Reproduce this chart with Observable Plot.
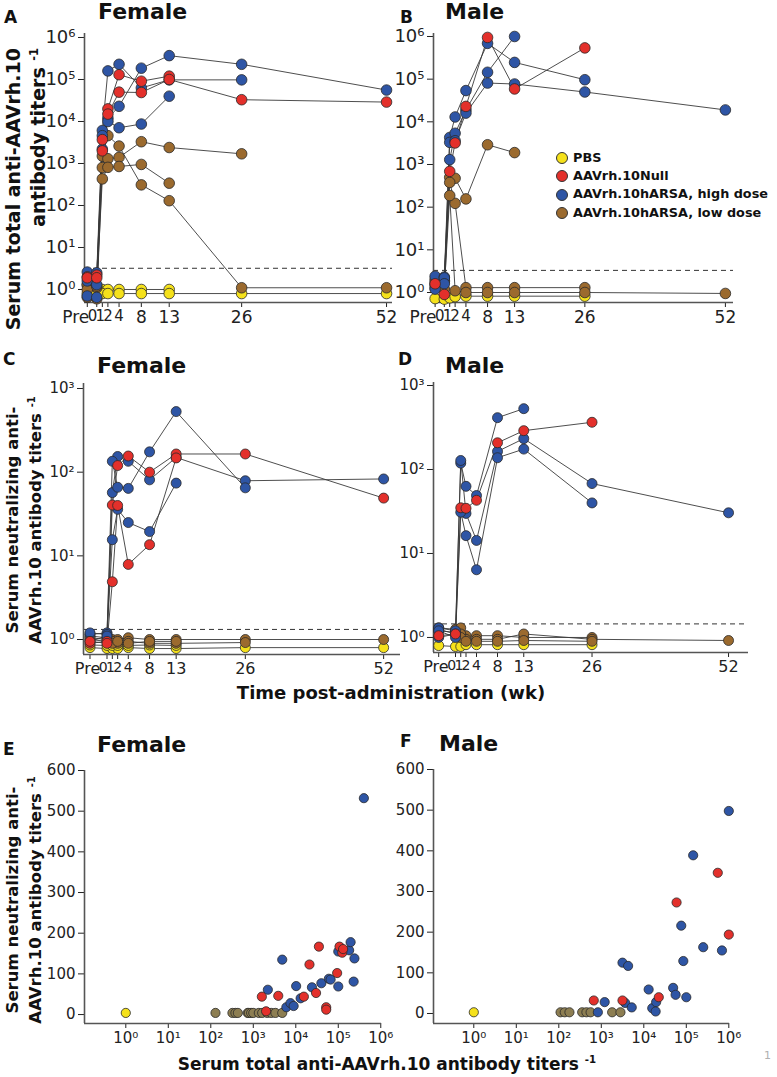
<!DOCTYPE html>
<html><head><meta charset="utf-8">
<script src="https://cdn.jsdelivr.net/npm/d3@7"></script>
<script src="https://cdn.jsdelivr.net/npm/@observablehq/plot@0.6"></script>
<style>
body{margin:0;background:#fff;}
#root{position:relative;width:777px;height:1077px;overflow:hidden;font-family:"DejaVu Sans",sans-serif;color:#111;}
.abs{position:absolute;white-space:nowrap;line-height:1;}
.letter{font-weight:bold;font-size:17px;}
.title{font-weight:bold;font-size:22px;}
.ytitle{position:absolute;font-weight:bold;transform:rotate(-90deg);transform-origin:0 0;white-space:nowrap;}
.ytitle sup,.xtitle sup{font-size:60%;line-height:0;}
.xtitle{position:absolute;font-weight:bold;white-space:nowrap;line-height:1;transform:translateX(-50%);}
.lrow{display:flex;align-items:center;height:18.3px;font-weight:bold;font-size:12.8px;white-space:nowrap;}
.sw{width:12px;height:12px;border-radius:50%;border:1px solid #333;margin-right:5px;box-sizing:border-box;}
.panel{position:absolute;}
</style>
</head><body>
<div id="root"></div>
<script>
// ---------- data ----------
const groupNames = ["PBS", "AAVrh.10Null", "AAVrh.10hARSA, high dose", "AAVrh.10hARSA, low dose"];
const groupColors = ["#f5e11b", "#e3302b", "#2e55a5", "#9b6a2e"];
const scatterLowColor = "#8d7e52";
const weekLabels = ["Pre", "0", "1", "2", "4", "8", "13", "26", "52"];
const weekNumbers = [null, 0, 1, 2, 4, 8, 13, 26, 52];
const preWeekTotal = -1.7;
const preWeekNeut = -3.2;

// Panel A: female, total anti-AAVrh.10 titers (values at Pre,0,1,2,4,8,13,26,52)
const femTotalPBS = [
  [1.3, 1.2, 1.0, 1.0, 1.0, 1.0, 1.0, null, null],
  [0.8, 0.8, 0.8, 0.8, 0.8, 0.8, 0.8, 0.8, 0.8]
];
const femTotalNull = [
  [2.0, 2.2, 2000, 20000, 130000, 91000, 120000, null, null],
  [1.9, 1.9, 3700, 15000, 50000, 49000, 100000, 33000, 29000]
];
const femTotalHigh = [
  [2.6, 2.5, 6100, 160000, 230000, 63000, 98000, 98000, null],
  [0.7, 0.65, 4600, 12000, 23000, 186000, 370000, 230000, 56000],
  [1.6, 1.3, 2200, 10000, 7100, 8700, 40000, null, null]
];
const femTotalLow = [
  [1.3, 1.1, 1500, 4600, 2600, 310, 130, 1.1, 1.1],
  [0.65, 0.6, 800, 1300, 1400, 3300, 2400, 1700, null],
  [1.0, 1.2, 430, 810, 850, 950, 340, null, null]
];

// Panel B: male, total titers
const maleTotalPBS = [
  [0.72, 0.7, 0.75, 0.8, 0.82, 0.82, 0.82, 0.82, null]
];
const maleTotalNull = [
  [1.6, 0.9, 690, 3200, 23000, 950000, 59000, 540000, null]
];
const maleTotalHigh = [
  [2.4, 2.3, 4300, 13000, 54000, 690000, 247000, 97000, null],
  [1.5, 2.2, 1300, 5400, 19000, 145000, 1000000, null, null],
  [1.2, 1.6, 3300, 3600, 16000, 81000, 77000, 50000, 19000]
];
const maleTotalLow = [
  [2.0, 1.9, 500, 475, 156, 2900, 1900, null, null],
  [1.3, 1.8, 380, 123, 1.3, 1.3, 1.3, 1.3, null],
  [1.7, 1.2, 187, 1.1, 1.0, 1.0, 1.0, 1.0, 0.95]
];

// Panel C: female, neutralizing titers
const femNeutPBS = [
  [0.8, 0.78, 0.78, 0.78, 0.8, 0.78, 0.78, 0.8, 0.8],
  [0.86, 0.85, 0.85, 0.85, 0.85, 0.86, 0.85, null, null]
];
const femNeutNull = [
  [0.9, 0.95, 40.5, 120, 156, 100, 165, 165, 49],
  [0.95, 0.9, 4.9, 40, 7.9, 13.6, 148, null, null]
];
const femNeutHigh = [
  [1.15, 1.2, 57, 154, 135, 81, 150, 79, 83],
  [1.2, 1.15, 135, 66, 64, 175, 530, 65, null],
  [0.95, 1.1, 15.6, 36, 25, 19.5, 74, null, null]
];
const femNeutLow = [
  [1.1, 1.05, 1.0, 1.0, 1.05, 1.0, 1.0, 1.0, 1.0],
  [1.0, 0.95, 0.95, 0.9, 0.95, 0.9, 0.9, 0.92, null],
  [1.05, 1.0, 0.9, 0.95, 0.9, 0.95, 0.95, null, null]
];

// Panel D: male, neutralizing titers
const maleNeutPBS = [
  [0.8, 0.78, 0.78, 0.82, 0.82, 0.82, 0.82, 0.82, null]
];
const maleNeutNull = [
  [1.05, 1.1, 35, 34.5, 43, 208, 290, 365, null]
];
const maleNeutHigh = [
  [1.3, 1.2, 119, 63, 49, 414, 530, null, null],
  [1.0, 1.1, 128, 30, 14.3, 164, 233, 68, 30.5],
  [1.2, 1.0, 31, 16.3, 6.4, 138, 175, 40, null]
];
const maleNeutLow = [
  [1.3, 1.25, 1.3, 1.05, 1.05, 1.05, 1.0, 1.0, null],
  [1.2, 1.15, 1.1, 0.95, 0.95, 0.95, 1.1, 0.95, 0.92],
  [1.25, 1.1, 1.0, 0.9, 0.9, 0.9, 0.92, 0.9, null]
];

// Limits of detection (dashed lines)
const lodTotalFemale = 3.2, lodTotalMale = 3.3, lodNeutFemale = 1.32, lodNeutMale = 1.45;

// Panel E: female, total (x) vs neutralizing (y)
const femScatPBSx = [1], femScatPBSy = [4];
const femScatLowX = [129, 323, 380, 433, 740, 785, 890, 1000, 1350, 1620, 2130, 2640, 3320, 4800];
const femScatLowY = [4, 4, 4, 4, 4, 4, 4, 4, 4, 4, 4, 4, 4, 4];
const femScatNullX = [1590, 2000, 3870, 15500, 21000, 30000, 35000, 52000, 52000, 94000, 107000, 124000, 130000];
const femScatNullY = [44, 8, 46, 44, 123, 53, 167, 18, 12, 102, 167, 152, 161];
const femScatHighX = [2200, 4800, 6000, 7500, 8900, 10200, 13000, 24000, 40000, 60000, 66000, 100000, 100000, 180000, 195000, 230000, 240000, 400000];
const femScatHighY = [61, 135, 18, 28, 21, 70, 40, 67, 77, 88, 86, 69, 155, 158, 178, 81, 138, 532];

// Panel F: male
const maleScatPBSx = [1], maleScatPBSy = [3];
const maleScatLowX = [110, 138, 178, 355, 446, 560, 1800, 2820];
const maleScatLowY = [3, 3, 3, 3, 3, 3, 3, 3];
const maleScatNullX = [665, 3150, 22500, 59000, 550000, 1000000];
const maleScatNullY = [32, 32, 40, 273, 346, 194];
const maleScatHighX = [830, 1200, 3150, 3640, 4270, 5200, 13000, 15800, 19000, 19500, 49000, 56000, 76000, 85000, 100000, 145000, 250000, 690000, 1000000];
const maleScatHighY = [3, 28, 125, 26, 117, 15, 59, 13, 5, 28, 63, 46, 216, 129, 40, 389, 163, 155, 498];

const logTicksTotal = [1, 10, 100, 1000, 10000, 100000, 1000000];
const logTicksNeut = [1, 10, 100, 1000];
const linTicksScatter = [0, 100, 200, 300, 400, 500, 600];

// ---------- helpers ----------
const supMap = {"0":"⁰","1":"¹","2":"²","3":"³","4":"⁴","5":"⁵","6":"⁶","-":"⁻"};
const logFmt = d => "10" + String(Math.round(Math.log10(d))).split("").map(c => supMap[c]).join("");
const root = document.getElementById("root");
const drawOrder = [0, 3, 2, 1]; // PBS, low, high, null

function place(node, left, top, width) {
  const w = document.createElement("div");
  w.className = "panel";
  w.style.left = left + "px"; w.style.top = top + "px"; w.style.width = width + "px";
  w.appendChild(node);
  root.appendChild(w);
}
function baseStyle(fs) {
  return {background: "transparent", fontFamily: "DejaVu Sans", fontSize: fs + "px", color: "#222", overflow: "visible", maxWidth: "none"};
}

function timePanel(o) {
  const {groups, preWeek, xDomain, yDomain, yTicks, width, height, mt, mb, ml, mr, lod, yFont, xFont, xFontSmall, r} = o;
  const tickWeeks = weekNumbers.map((w, i) => i === 0 ? preWeek : w);
  const rows = [];
  groups.forEach((list, gi) => list.forEach((s, si) => s.forEach((v, wi) => {
    if (v != null) rows.push({id: gi + "-" + si, g: gi, w: tickWeeks[wi], v});
  })));
  const innerW = width - ml - mr;
  const px = w => ml + (w - xDomain[0]) / (xDomain[1] - xDomain[0]) * innerW;
  const labs = weekLabels.map((label, i) => ({w: tickWeeks[i], label, fs: (i > 0 && i < 5) ? xFontSmall : xFont}));
  const hw = l => (l.label === "Pre" ? 1.9 : 0.64 * l.label.length) * l.fs * 0.8 / 2;
  let prev = null;
  for (let i = labs.length - 1; i >= 0; i--) {
    const l = labs[i];
    let p = px(l.w);
    if (prev) p = Math.min(p, prev.p - hw(prev) - hw(l));
    l.p = p; l.dx = p - px(l.w); prev = l;
  }
  return Plot.plot({
    width, height, marginTop: mt, marginBottom: mb, marginLeft: ml, marginRight: mr,
    style: baseStyle(yFont),
    x: {domain: xDomain, ticks: tickWeeks, tickFormat: () => "", tickSize: 5, label: null},
    y: {type: "log", domain: yDomain, ticks: yTicks, tickFormat: logFmt, tickSize: 6, tickPadding: 3, label: null},
    marks: [
      Plot.ruleY([lod], {stroke: "#333", strokeWidth: 1, strokeDasharray: "5,4"}),
      Plot.ruleX([xDomain[0]], {stroke: "#555", strokeWidth: 1.6}),
      Plot.ruleY([yDomain[0]], {stroke: "#555", strokeWidth: 1.6}),
      Plot.line(rows, {x: "w", y: "v", z: "id", stroke: "#3a3a3a", strokeWidth: 0.9}),
      ...drawOrder.map(g => Plot.dot(rows.filter(d => d.g === g), {x: "w", y: "v", r, fill: groupColors[g], stroke: "#2a2a2a", strokeWidth: 0.8})),
      ...labs.map(l => Plot.text([l], {x: "w", text: "label", frameAnchor: "bottom", lineAnchor: "top", dy: 8, dx: l.dx, fontSize: l.fs, fill: "#222"}))
    ]
  });
}

function scatterPanel(o) {
  const {sets, xDomain, yDomain, width, height, mt, mb, ml, mr, fs, r} = o;
  return Plot.plot({
    width, height, marginTop: mt, marginBottom: mb, marginLeft: ml, marginRight: mr,
    style: baseStyle(fs),
    x: {type: "log", domain: xDomain, ticks: logTicksTotal, tickFormat: logFmt, tickSize: 5, tickPadding: 4, label: null},
    y: {domain: yDomain, ticks: linTicksScatter, tickSize: 6, tickPadding: 3, label: null},
    marks: [
      Plot.ruleX([xDomain[0]], {stroke: "#555", strokeWidth: 1.6}),
      Plot.ruleY([yDomain[0]], {stroke: "#555", strokeWidth: 1.6}),
      ...sets.map(s => Plot.dot(s.x.map((x, i) => ({x, y: s.y[i]})), {x: "x", y: "y", r, fill: s.color, stroke: "#2a2a2a", strokeWidth: 0.8}))
    ]
  });
}

// ---------- panels ----------
place(timePanel({
  groups: [femTotalPBS, femTotalNull, femTotalHigh, femTotalLow], preWeek: preWeekTotal,
  xDomain: [-2.2, 53.07], yDomain: [0.49, 1.245e6], yTicks: logTicksTotal,
  width: 395, height: 330, mt: 33, mb: 28, ml: 84, mr: 3, lod: lodTotalFemale,
  yFont: 18, xFont: 17, xFontSmall: 15, r: 5.3
}), 0, 0, 395);

place(timePanel({
  groups: [maleTotalPBS, maleTotalNull, maleTotalHigh, maleTotalLow], preWeek: preWeekTotal,
  xDomain: [-2.0, 53.5], yDomain: [0.583, 1.175e6], yTicks: logTicksTotal,
  width: 387, height: 330, mt: 33, mb: 28, ml: 43, mr: 44, lod: lodTotalMale,
  yFont: 18, xFont: 17, xFontSmall: 15, r: 5.3
}), 390, 0, 387);

place(timePanel({
  groups: [femNeutPBS, femNeutNull, femNeutHigh, femNeutLow], preWeek: preWeekNeut,
  xDomain: [-4.42, 55.17], yDomain: [0.662, 1148], yTicks: logTicksNeut,
  width: 405, height: 330, mt: 33, mb: 26, ml: 83, mr: 5, lod: lodNeutFemale,
  yFont: 15, xFont: 16, xFontSmall: 14, r: 5
}), 0, 350, 405);

place(timePanel({
  groups: [maleNeutPBS, maleNeutNull, maleNeutHigh, maleNeutLow], preWeek: preWeekNeut,
  xDomain: [-4.19, 55.8], yDomain: [0.662, 1086], yTicks: logTicksNeut,
  width: 387, height: 330, mt: 32, mb: 28, ml: 43, mr: 29, lod: lodNeutMale,
  yFont: 15, xFont: 16, xFontSmall: 14, r: 5
}), 390, 350, 387);

place(scatterPanel({
  sets: [
    {x: femScatLowX, y: femScatLowY, color: scatterLowColor},
    {x: femScatPBSx, y: femScatPBSy, color: groupColors[0]},
    {x: femScatHighX, y: femScatHighY, color: groupColors[2]},
    {x: femScatNullX, y: femScatNullY, color: groupColors[1]}
  ],
  xDomain: [0.1067, 1.04e6], yDomain: [-22, 600],
  width: 395, height: 315, mt: 30, mb: 32, ml: 84, mr: 14, fs: 15, r: 4.6
}), 0, 740, 395);

place(scatterPanel({
  sets: [
    {x: maleScatLowX, y: maleScatLowY, color: scatterLowColor},
    {x: maleScatPBSx, y: maleScatPBSy, color: groupColors[0]},
    {x: maleScatHighX, y: maleScatHighY, color: groupColors[2]},
    {x: maleScatNullX, y: maleScatNullY, color: groupColors[1]}
  ],
  xDomain: [0.1127, 1.038e6], yDomain: [-24.6, 600],
  width: 387, height: 315, mt: 29, mb: 32, ml: 43, mr: 48, fs: 15, r: 4.6
}), 390, 740, 387);

// ---------- text ----------
function addText(cls, html, left, top, extra) {
  const d = document.createElement("div");
  d.className = cls;
  d.innerHTML = html;
  d.style.left = left + "px"; d.style.top = top + "px";
  if (extra) Object.assign(d.style, extra);
  root.appendChild(d);
}
[["A", 4, 9], ["B", 400, 9], ["C", 3, 351], ["D", 398, 351], ["E", 3, 741], ["F", 400, 733]]
  .forEach(([t, x, y]) => addText("abs letter", t, x, y));
[["Female", 98, 1], ["Male", 445, 1], ["Female", 97, 355], ["Male", 445, 355], ["Female", 97, 734], ["Male", 439, 733]]
  .forEach(([t, x, y]) => addText("abs title", t, x, y));

addText("ytitle", "Serum total anti-AAVrh.10<br>antibody titers <sup>-1</sup>", 1, 338,
  {width: "290px", textAlign: "right", fontSize: "19px", lineHeight: "25px"});
addText("ytitle", "Serum neutralizing anti-<br>AAVrh.10 antibody titers <sup>-1</sup>", 1, 650,
  {width: "260px", textAlign: "center", fontSize: "16.5px", lineHeight: "23px"});
addText("ytitle", "Serum neutralizing anti-<br>AAVrh.10 antibody titers <sup>-1</sup>", 1, 1030,
  {width: "260px", textAlign: "center", fontSize: "16.5px", lineHeight: "23px"});

addText("xtitle", "Time post-administration (wk)", 391, 684, {fontSize: "18px"});
addText("xtitle", "Serum total anti-AAVrh.10 antibody titers <sup>-1</sup>", 387, 1056, {fontSize: "17px"});
addText("abs", "1", 764, 1050, {fontSize: "11px", color: "#b0b0b0"});

// legend
const leg = document.createElement("div");
leg.className = "abs";
leg.style.left = "556px"; leg.style.top = "149px";
groupNames.forEach((name, i) => {
  const row = document.createElement("div");
  row.className = "lrow";
  row.innerHTML = `<span class="sw" style="background:${groupColors[i]}"></span>${name}`;
  leg.appendChild(row);
});
root.appendChild(leg);
</script>
</body></html>
